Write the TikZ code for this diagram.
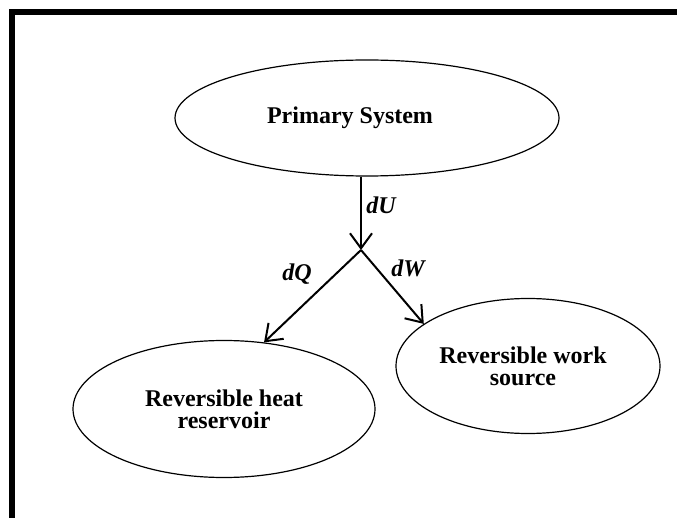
\documentclass[tikz,border=0pt]{standalone}
\usepackage{fontspec}
\setmainfont{Liberation Serif}
\usetikzlibrary{shapes.geometric,arrows.meta}
\begin{document}
\begin{tikzpicture}[x=1pt,y=-1pt,
    body/.style = {ellipse,draw,line width=1.2pt,align=center,inner sep=0pt,
                   font=\fontsize{24}{22}\selectfont\bfseries},
    arrow/.style = {line width=2pt,-{Straight Barb[length=15pt,width=22pt,line width=2pt]}},
    flux/.style = {font=\fontsize{24}{26}\selectfont\bfseries\itshape}]
            \useasboundingbox (0,0) rectangle (677,518);

            % frame
            \fill (9,9) rectangle (677,15);
            \fill (9,9) rectangle (15,518);

            % systems
            \node [body, minimum width=384, minimum height=116] (prim) at (367,118) {Primary System\hspace*{34pt}};
            \node [body, minimum width=302, minimum height=137] (heat) at (224,409) {Reversible heat\\reservoir};
            \node [body, minimum width=264, minimum height=135] (work) at (528,366) {Reversible work\hspace*{10pt}\\source\hspace*{10pt}};

            \coordinate (junc) at (361,250);

            % transfers
            \draw[arrow] (prim.south -| junc) -- (junc);
            \draw[arrow] (junc) -- (heat.59);
            \draw[arrow] (junc) -- (work.158);

            \node [flux] (lU) at (381,205) {dU};
            \node [flux] (lQ) at (297,274) {dQ};
            \node [flux] (lW) at (408,268) {dW};
        \end{tikzpicture}
\end{document}
